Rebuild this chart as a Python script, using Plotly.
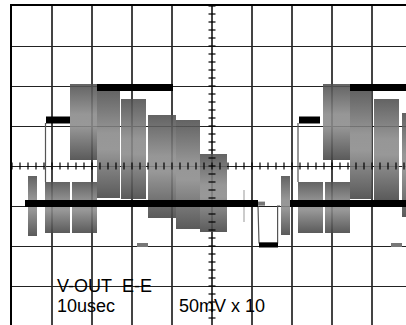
import numpy as np
import plotly.graph_objects as go

# envelope blocks of the burst (time in usec, amplitude in divisions)
block_t0 = [4.0, 8.25, 15.0, 14.5, 21.25, 27.25, 34.0, 41.0, 47.0,
            67.25, 71.5, 78.25, 77.75, 84.5, 90.5, 97.5]
block_t1 = [6.25, 14.5, 21.25, 21.25, 27.0, 33.5, 41.0, 47.0, 53.75,
            69.5, 77.75, 84.5, 84.5, 90.0, 96.75, 104.5]
block_top = [-0.25, -0.4, -0.4, 2.05, 1.9, 1.675, 1.275, 1.15, 0.3,
             -0.25, -0.4, -0.4, 2.05, 1.875, 1.675, 1.325]
block_bot = [-1.75, -1.675, -1.675, 0.15, -0.8, -0.825, -1.3, -1.575, -1.65,
             -1.725, -1.675, -1.675, 0.15, -0.825, -0.85, -1.275]

# thick black trace segments
seg_t0 = [21.25, 8.5, 3.25, 69.5, 84.5, 71.75]
seg_t1 = [40.25, 14.5, 61.5, 98.5, 98.5, 77.0]
seg_v = [1.96, 1.15, -0.94, -0.94, 1.96, 1.15]

# low pulse
pulse_t = [61.5, 61.75, 66.4, 66.4, 67.0]
pulse_v = [-1.0, -1.925, -1.925, -1.0, -1.0]
pulse_bar_t = [61.75, 66.5]
pulse_bar_v = -1.975

# thin edges rising from the step
edge_t = [8.375, 71.5]
edge_top = 1.075
edge_bot = -0.4

# small grey dashes
dash_t0 = [31.25, 94.75, 61.5]
dash_t1 = [34.0, 97.5, 63.25]
dash_v = [-1.975, -1.975, -0.94]

glitch_t = 58.0
glitch_v = [-0.6, -1.4]

shade = [[0.0, 'rgba(68,68,68,0.88)'], [0.45, 'rgba(138,138,138,0.88)'],
         [0.6, 'rgba(136,136,136,0.88)'], [1.0, 'rgba(78,78,78,0.88)']]

fig = go.Figure()

for a, b, top, bot in zip(block_t0, block_t1, block_top, block_bot):
    fig.add_trace(go.Scatter(
        x=[a, b, b, a, a], y=[top, top, bot, bot, top],
        mode='none', fill='toself',
        fillgradient=dict(type='vertical', colorscale=shade),
        hoverinfo='skip', showlegend=False))

# thin lines
tx, ty = [], []
for t in edge_t:
    tx += [t, t, None]
    ty += [edge_top, edge_bot, None]
tx += pulse_t
ty += pulse_v
fig.add_trace(go.Scatter(x=tx, y=ty, mode='lines',
                         line=dict(color='#555', width=1.2),
                         hoverinfo='skip', showlegend=False))
fig.add_trace(go.Scatter(x=[glitch_t, glitch_t], y=glitch_v, mode='lines',
                         line=dict(color='#999', width=1),
                         hoverinfo='skip', showlegend=False))

# grey dashes
gx, gy = [], []
for a, b, v in zip(dash_t0, dash_t1, dash_v):
    gx += [a, b, None]
    gy += [v, v, None]
fig.add_trace(go.Scatter(x=gx, y=gy, mode='lines',
                         line=dict(color='#777', width=4),
                         hoverinfo='skip', showlegend=False))

# thick black segments
bx, by = [], []
for a, b, v in zip(seg_t0, seg_t1, seg_v):
    bx += [a, b, None]
    by += [v, v, None]
fig.add_trace(go.Scatter(x=bx, y=by, mode='lines',
                         line=dict(color='black', width=7),
                         hoverinfo='skip', showlegend=False))
fig.add_trace(go.Scatter(x=pulse_bar_t, y=[pulse_bar_v, pulse_bar_v], mode='lines',
                         line=dict(color='black', width=5),
                         hoverinfo='skip', showlegend=False))

# graticule minor ticks on the centre lines
ht = np.arange(0, 100, 2)
vt = np.arange(-4, 4.01, 0.2)
fig.add_trace(go.Scatter(x=ht, y=[0] * len(ht), mode='markers',
                         marker=dict(symbol='line-ns', size=5,
                                     line=dict(color='black', width=1.2)),
                         hoverinfo='skip', showlegend=False))
fig.add_trace(go.Scatter(x=[50] * len(vt), y=vt, mode='markers',
                         marker=dict(symbol='line-ew', size=5,
                                     line=dict(color='black', width=1.2)),
                         hoverinfo='skip', showlegend=False))

font = dict(family='Liberation Sans, Arial, sans-serif', size=18, color='black')
fig.add_annotation(x=10.75, y=-3.0, text='V-OUT\u00a0\u00a0E-E', showarrow=False,
                   xanchor='left', yanchor='middle', font=font)
fig.add_annotation(x=10.75, y=-3.5, text='10usec', showarrow=False,
                   xanchor='left', yanchor='middle', font=font)
fig.add_annotation(x=41.25, y=-3.5, text='50mV x 10', showarrow=False,
                   xanchor='left', yanchor='middle', font=font)

fig.update_layout(
    width=406, height=325,
    margin=dict(l=12, r=0, t=6, b=0),
    paper_bgcolor='white', plot_bgcolor='white',
    showlegend=False,
    xaxis=dict(range=[0, 98.5], tick0=0, dtick=10, showgrid=True,
               gridcolor='#444', gridwidth=2, zeroline=False,
               showticklabels=False, ticks='', side='top',
               showline=True, linecolor='black', linewidth=2),
    yaxis=dict(range=[-3.975, 4], tick0=0, dtick=1, showgrid=True,
               gridcolor='#222', gridwidth=1.3, zeroline=False,
               showticklabels=False, ticks='',
               showline=True, linecolor='black', linewidth=2),
)

fig.write_html("out.html", config={'displayModeBar': False},
               post_script="document.body.style.margin='0';document.body.style.overflow='hidden';")
